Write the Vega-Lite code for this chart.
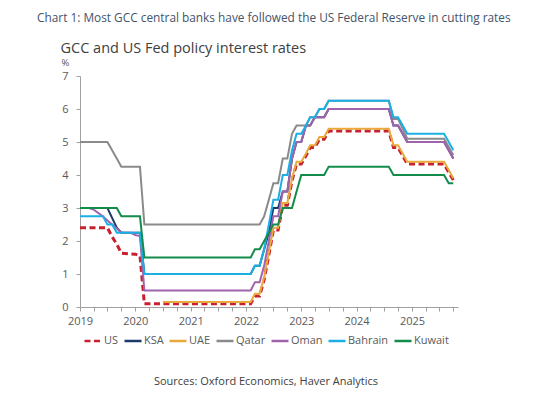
{
"$schema": "https://vega.github.io/schema/vega-lite/v6.json",
"width": 378, "height": 231,
"autosize": {"type": "none"},
"padding": {"left": 80, "top": 76, "right": 78, "bottom": 89},
"background": "white",
"title": {"text": "Chart 1: Most GCC central banks have followed the US Federal Reserve in cutting rates", "anchor": "start", "frame": "group", "dx": -43, "offset": 15, "font": "Open Sans", "fontSize": 11.85, "fontWeight": "normal", "color": "#44546a"},
"config": {"view": {"stroke": null}, "font": "Open Sans"},
"data": {"values": [
{"d":"2019-01-01","s":"US","v":2.4},{"d":"2019-07-01","s":"US","v":2.4},{"d":"2019-08-01","s":"US","v":2.13},{"d":"2019-09-01","s":"US","v":1.9},{"d":"2019-10-01","s":"US","v":1.63},{"d":"2020-01-01","s":"US","v":1.6},{"d":"2020-02-01","s":"US","v":1.55},{"d":"2020-03-01","s":"US","v":0.1},{"d":"2022-02-01","s":"US","v":0.1},{"d":"2022-03-01","s":"US","v":0.33},{"d":"2022-04-01","s":"US","v":0.33},{"d":"2022-05-01","s":"US","v":0.83},{"d":"2022-06-01","s":"US","v":1.58},{"d":"2022-07-01","s":"US","v":2.33},{"d":"2022-08-01","s":"US","v":2.33},{"d":"2022-09-01","s":"US","v":3.08},{"d":"2022-10-01","s":"US","v":3.08},{"d":"2022-11-01","s":"US","v":3.83},{"d":"2022-12-01","s":"US","v":4.33},{"d":"2023-01-01","s":"US","v":4.33},{"d":"2023-02-01","s":"US","v":4.58},{"d":"2023-03-01","s":"US","v":4.83},{"d":"2023-04-01","s":"US","v":4.83},{"d":"2023-05-01","s":"US","v":5.08},{"d":"2023-06-01","s":"US","v":5.08},{"d":"2023-07-01","s":"US","v":5.33},{"d":"2024-08-01","s":"US","v":5.33},{"d":"2024-09-01","s":"US","v":4.83},{"d":"2024-10-01","s":"US","v":4.83},{"d":"2024-11-01","s":"US","v":4.58},{"d":"2024-12-01","s":"US","v":4.33},{"d":"2025-08-01","s":"US","v":4.33},{"d":"2025-09-01","s":"US","v":4.08},{"d":"2025-10-01","s":"US","v":3.85},
{"d":"2019-01-01","s":"KSA","v":3.0},{"d":"2019-07-01","s":"KSA","v":3.0},{"d":"2019-08-01","s":"KSA","v":2.7},{"d":"2019-09-01","s":"KSA","v":2.4},{"d":"2019-10-01","s":"KSA","v":2.25},{"d":"2020-02-01","s":"KSA","v":2.25},{"d":"2020-03-01","s":"KSA","v":1.0},{"d":"2022-02-01","s":"KSA","v":1.0},{"d":"2022-03-01","s":"KSA","v":1.25},{"d":"2022-04-01","s":"KSA","v":1.25},{"d":"2022-05-01","s":"KSA","v":1.75},{"d":"2022-06-01","s":"KSA","v":2.25},{"d":"2022-07-01","s":"KSA","v":3.0},{"d":"2022-08-01","s":"KSA","v":3.0},{"d":"2022-09-01","s":"KSA","v":3.5},{"d":"2022-10-01","s":"KSA","v":3.5},{"d":"2022-11-01","s":"KSA","v":4.5},{"d":"2022-12-01","s":"KSA","v":5.0},{"d":"2023-01-01","s":"KSA","v":5.0},{"d":"2023-02-01","s":"KSA","v":5.5},{"d":"2023-03-01","s":"KSA","v":5.5},{"d":"2023-04-01","s":"KSA","v":5.75},{"d":"2023-06-01","s":"KSA","v":5.75},{"d":"2023-07-01","s":"KSA","v":6.0},{"d":"2024-08-01","s":"KSA","v":6.0},{"d":"2024-09-01","s":"KSA","v":5.5},{"d":"2024-10-01","s":"KSA","v":5.5},{"d":"2024-11-01","s":"KSA","v":5.25},{"d":"2024-12-01","s":"KSA","v":5.0},{"d":"2025-08-01","s":"KSA","v":5.0},{"d":"2025-09-01","s":"KSA","v":4.75},{"d":"2025-10-01","s":"KSA","v":4.5},
{"d":"2020-07-01","s":"UAE","v":0.15},{"d":"2022-02-01","s":"UAE","v":0.15},{"d":"2022-03-01","s":"UAE","v":0.4},{"d":"2022-04-01","s":"UAE","v":0.4},{"d":"2022-05-01","s":"UAE","v":0.9},{"d":"2022-06-01","s":"UAE","v":1.65},{"d":"2022-07-01","s":"UAE","v":2.4},{"d":"2022-08-01","s":"UAE","v":2.4},{"d":"2022-09-01","s":"UAE","v":3.15},{"d":"2022-10-01","s":"UAE","v":3.15},{"d":"2022-11-01","s":"UAE","v":3.9},{"d":"2022-12-01","s":"UAE","v":4.4},{"d":"2023-01-01","s":"UAE","v":4.4},{"d":"2023-02-01","s":"UAE","v":4.65},{"d":"2023-03-01","s":"UAE","v":4.9},{"d":"2023-04-01","s":"UAE","v":4.9},{"d":"2023-05-01","s":"UAE","v":5.15},{"d":"2023-06-01","s":"UAE","v":5.15},{"d":"2023-07-01","s":"UAE","v":5.4},{"d":"2024-08-01","s":"UAE","v":5.4},{"d":"2024-09-01","s":"UAE","v":4.9},{"d":"2024-10-01","s":"UAE","v":4.9},{"d":"2024-11-01","s":"UAE","v":4.65},{"d":"2024-12-01","s":"UAE","v":4.4},{"d":"2025-08-01","s":"UAE","v":4.4},{"d":"2025-09-01","s":"UAE","v":4.15},{"d":"2025-10-01","s":"UAE","v":3.9},
{"d":"2019-01-01","s":"Qatar","v":5.0},{"d":"2019-07-01","s":"Qatar","v":5.0},{"d":"2019-08-01","s":"Qatar","v":4.75},{"d":"2019-09-01","s":"Qatar","v":4.5},{"d":"2019-10-01","s":"Qatar","v":4.25},{"d":"2020-02-01","s":"Qatar","v":4.25},{"d":"2020-03-01","s":"Qatar","v":2.5},{"d":"2022-04-01","s":"Qatar","v":2.5},{"d":"2022-05-01","s":"Qatar","v":2.75},{"d":"2022-06-01","s":"Qatar","v":3.25},{"d":"2022-07-01","s":"Qatar","v":3.75},{"d":"2022-08-01","s":"Qatar","v":3.75},{"d":"2022-09-01","s":"Qatar","v":4.5},{"d":"2022-10-01","s":"Qatar","v":4.5},{"d":"2022-11-01","s":"Qatar","v":5.25},{"d":"2022-12-01","s":"Qatar","v":5.5},{"d":"2023-02-01","s":"Qatar","v":5.5},{"d":"2023-03-01","s":"Qatar","v":5.75},{"d":"2023-04-01","s":"Qatar","v":5.75},{"d":"2023-05-01","s":"Qatar","v":6.0},{"d":"2023-06-01","s":"Qatar","v":6.0},{"d":"2023-07-01","s":"Qatar","v":6.25},{"d":"2024-08-01","s":"Qatar","v":6.25},{"d":"2024-09-01","s":"Qatar","v":5.7},{"d":"2024-10-01","s":"Qatar","v":5.7},{"d":"2024-11-01","s":"Qatar","v":5.4},{"d":"2024-12-01","s":"Qatar","v":5.1},{"d":"2025-08-01","s":"Qatar","v":5.1},{"d":"2025-09-01","s":"Qatar","v":4.85},{"d":"2025-10-01","s":"Qatar","v":4.6},
{"d":"2019-01-01","s":"Oman","v":3.0},{"d":"2019-03-01","s":"Oman","v":3.0},{"d":"2019-04-01","s":"Oman","v":2.95},{"d":"2019-05-01","s":"Oman","v":2.85},{"d":"2019-06-01","s":"Oman","v":2.75},{"d":"2019-07-01","s":"Oman","v":2.62},{"d":"2019-08-01","s":"Oman","v":2.5},{"d":"2019-09-01","s":"Oman","v":2.38},{"d":"2019-10-01","s":"Oman","v":2.25},{"d":"2019-12-01","s":"Oman","v":2.25},{"d":"2020-01-01","s":"Oman","v":2.18},{"d":"2020-02-01","s":"Oman","v":2.15},{"d":"2020-03-01","s":"Oman","v":0.5},{"d":"2022-02-01","s":"Oman","v":0.5},{"d":"2022-03-01","s":"Oman","v":0.75},{"d":"2022-04-01","s":"Oman","v":0.75},{"d":"2022-05-01","s":"Oman","v":1.25},{"d":"2022-06-01","s":"Oman","v":2.0},{"d":"2022-07-01","s":"Oman","v":2.75},{"d":"2022-08-01","s":"Oman","v":2.75},{"d":"2022-09-01","s":"Oman","v":3.5},{"d":"2022-10-01","s":"Oman","v":3.5},{"d":"2022-11-01","s":"Oman","v":4.5},{"d":"2022-12-01","s":"Oman","v":5.0},{"d":"2023-01-01","s":"Oman","v":5.0},{"d":"2023-02-01","s":"Oman","v":5.5},{"d":"2023-03-01","s":"Oman","v":5.5},{"d":"2023-04-01","s":"Oman","v":5.75},{"d":"2023-06-01","s":"Oman","v":5.75},{"d":"2023-07-01","s":"Oman","v":6.0},{"d":"2024-08-01","s":"Oman","v":6.0},{"d":"2024-09-01","s":"Oman","v":5.5},{"d":"2024-10-01","s":"Oman","v":5.5},{"d":"2024-11-01","s":"Oman","v":5.25},{"d":"2024-12-01","s":"Oman","v":5.0},{"d":"2025-08-01","s":"Oman","v":5.0},{"d":"2025-09-01","s":"Oman","v":4.75},{"d":"2025-10-01","s":"Oman","v":4.5},
{"d":"2019-01-01","s":"Bahrain","v":2.75},{"d":"2019-06-01","s":"Bahrain","v":2.75},{"d":"2019-07-01","s":"Bahrain","v":2.5},{"d":"2019-08-01","s":"Bahrain","v":2.5},{"d":"2019-09-01","s":"Bahrain","v":2.25},{"d":"2020-02-01","s":"Bahrain","v":2.25},{"d":"2020-03-01","s":"Bahrain","v":1.0},{"d":"2022-02-01","s":"Bahrain","v":1.0},{"d":"2022-03-01","s":"Bahrain","v":1.25},{"d":"2022-04-01","s":"Bahrain","v":1.25},{"d":"2022-05-01","s":"Bahrain","v":1.75},{"d":"2022-06-01","s":"Bahrain","v":2.5},{"d":"2022-07-01","s":"Bahrain","v":3.25},{"d":"2022-08-01","s":"Bahrain","v":3.25},{"d":"2022-09-01","s":"Bahrain","v":4.0},{"d":"2022-10-01","s":"Bahrain","v":4.0},{"d":"2022-11-01","s":"Bahrain","v":4.75},{"d":"2022-12-01","s":"Bahrain","v":5.25},{"d":"2023-01-01","s":"Bahrain","v":5.25},{"d":"2023-02-01","s":"Bahrain","v":5.5},{"d":"2023-03-01","s":"Bahrain","v":5.75},{"d":"2023-04-01","s":"Bahrain","v":5.75},{"d":"2023-05-01","s":"Bahrain","v":6.0},{"d":"2023-06-01","s":"Bahrain","v":6.0},{"d":"2023-07-01","s":"Bahrain","v":6.25},{"d":"2024-08-01","s":"Bahrain","v":6.25},{"d":"2024-09-01","s":"Bahrain","v":5.75},{"d":"2024-10-01","s":"Bahrain","v":5.75},{"d":"2024-11-01","s":"Bahrain","v":5.5},{"d":"2024-12-01","s":"Bahrain","v":5.25},{"d":"2025-08-01","s":"Bahrain","v":5.25},{"d":"2025-09-01","s":"Bahrain","v":5.0},{"d":"2025-10-01","s":"Bahrain","v":4.75},
{"d":"2019-01-01","s":"Kuwait","v":3.0},{"d":"2019-09-01","s":"Kuwait","v":3.0},{"d":"2019-10-01","s":"Kuwait","v":2.75},{"d":"2020-02-01","s":"Kuwait","v":2.75},{"d":"2020-03-01","s":"Kuwait","v":1.5},{"d":"2022-02-01","s":"Kuwait","v":1.5},{"d":"2022-03-01","s":"Kuwait","v":1.75},{"d":"2022-04-01","s":"Kuwait","v":1.75},{"d":"2022-05-01","s":"Kuwait","v":2.0},{"d":"2022-06-01","s":"Kuwait","v":2.25},{"d":"2022-07-01","s":"Kuwait","v":2.5},{"d":"2022-08-01","s":"Kuwait","v":2.5},{"d":"2022-09-01","s":"Kuwait","v":3.0},{"d":"2022-11-01","s":"Kuwait","v":3.0},{"d":"2022-12-01","s":"Kuwait","v":3.5},{"d":"2023-01-01","s":"Kuwait","v":4.0},{"d":"2023-06-01","s":"Kuwait","v":4.0},{"d":"2023-07-01","s":"Kuwait","v":4.25},{"d":"2024-08-01","s":"Kuwait","v":4.25},{"d":"2024-09-01","s":"Kuwait","v":4.0},{"d":"2025-08-01","s":"Kuwait","v":4.0},{"d":"2025-09-01","s":"Kuwait","v":3.75},{"d":"2025-10-01","s":"Kuwait","v":3.75}
]},
"mark": {"type": "line"},
"encoding": {
"x": {"field": "d", "type": "temporal",
 "scale": {"type": "utc", "domain": [{"year": 2019, "month": 1, "date": 1, "utc": true}, {"year": 2025, "month": 11, "date": 1, "utc": true}]},
 "axis": {"title": "GCC and US Fed policy interest rates", "titleX": -20, "titleY": -255, "titleAlign": "left", "titleAnchor": null, "titleBaseline": "alphabetic", "titleFontSize": 14.5, "titleFontWeight": "normal", "titleColor": "#404040", "titleAngle": 0,
  "tickCount": {"interval": "month", "step": 3}, "labelExpr": "utcmonth(datum.value) === 0 ? utcFormat(datum.value, '%Y') : ''", "labelOverlap": false, "labelFlush": false, "grid": false,
  "domainColor": "#a0a0a0", "tickColor": "#a0a0a0", "tickSize": 4, "labelFontSize": 11, "labelColor": "#595959", "labelPadding": 4}},
"y": {"field": "v", "type": "quantitative", "scale": {"domain": [0, 7], "nice": false},
 "axis": {"title": "%", "titleAngle": 0, "titleX": -19, "titleY": -11, "titleAlign": "left", "titleAnchor": null, "titleBaseline": "alphabetic", "titleFontSize": 9.5, "titleFontWeight": "normal", "titleColor": "#595959",
  "values": [0, 1, 2, 3, 4, 5, 6, 7], "grid": false, "domainColor": "#a0a0a0", "tickColor": "#a0a0a0", "tickSize": 4, "labelFontSize": 11, "labelColor": "#595959", "labelPadding": 8, "format": "d"}},
"color": {"field": "s", "type": "nominal", "title": "Sources: Oxford Economics, Haver Analytics",
 "scale": {"domain": ["US", "KSA", "UAE", "Qatar", "Oman", "Bahrain", "Kuwait"], "range": ["#c8202f", "#1b3a6b", "#e9a93b", "#8a8a8a", "#a064ac", "#1ab0e6", "#138b4b"]},
 "legend": {"orient": "none", "legendX": 3, "legendY": 255, "direction": "horizontal", "gridAlign": "none", "titleOrient": "bottom", "titleAnchor": "middle", "titlePadding": 30, "titleLimit": 600, "titleFontSize": 11, "titleFontWeight": "normal", "titleColor": "#404040", "symbolType": "stroke", "symbolSize": 289, "symbolStrokeWidth": 2.5, "labelFontSize": 11, "labelColor": "#595959", "labelOffset": 1, "columnPadding": 0}},
"strokeDash": {"field": "s", "type": "nominal", "title": "Sources: Oxford Economics, Haver Analytics",
 "scale": {"domain": ["US", "KSA", "UAE", "Qatar", "Oman", "Bahrain", "Kuwait"], "range": [[6, 3.5], [1, 0], [1, 0], [1, 0], [1, 0], [1, 0], [1, 0]]},
 "legend": {"orient": "none", "legendX": 3, "legendY": 255, "direction": "horizontal", "gridAlign": "none", "titleOrient": "bottom", "titleAnchor": "middle", "titlePadding": 30, "titleLimit": 600, "titleFontSize": 11, "titleFontWeight": "normal", "titleColor": "#404040", "symbolType": "stroke", "symbolSize": 289, "symbolStrokeWidth": 2.5, "labelFontSize": 11, "labelColor": "#595959", "labelOffset": 1, "columnPadding": 0}},
"strokeWidth": {"condition": {"test": "datum.s === 'US'", "value": 3}, "value": 2}
}
}
